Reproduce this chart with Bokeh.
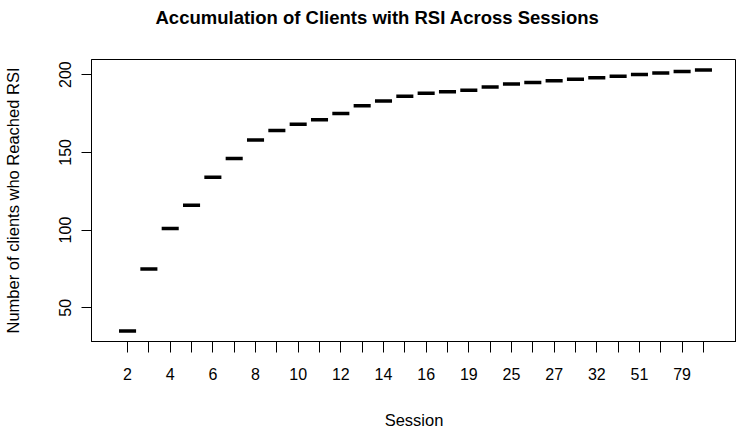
from bokeh.plotting import figure
from bokeh.models import FixedTicker, Range1d, Title
from bokeh.embed import file_html
from bokeh.resources import INLINE
import numpy as np

# Data
sessions = ["2", "3", "4", "5", "6", "7", "8", "9", "10", "11", "12", "13", "14", "15",
            "16", "17", "19", "21", "25", "26", "27", "30", "32", "40", "51", "60", "79", "100"]
clients = [35, 75, 101, 116, 134, 146, 158, 164, 168, 171, 175, 180, 183, 186,
           188, 189, 190, 192, 194, 195, 196, 197, 198, 199, 200, 201, 202, 203]
y_ticks = [50, 100, 150, 200]
title_text = "Accumulation of Clients with RSI Across Sessions"

pos = np.arange(1, len(sessions) + 1)
half_w = 0.4  # boxplot median width (0.8 of a category)

ymin, ymax = min(clients), max(clients)
ypad = 0.04 * (ymax - ymin)

FONT = "Liberation Sans"

p = figure(width=736, height=431, output_backend="svg", toolbar_location=None,
           x_range=Range1d(-0.69, 29.55), y_range=Range1d(ymin - ypad, ymax + ypad),
           min_border_left=90, min_border_right=0, min_border_top=59, min_border_bottom=88,
           title=None)

# spacer between the title and the plot frame
p.add_layout(Title(text=" ", text_font=FONT, text_font_size="27px", standoff=0), "above")
p.add_layout(Title(text=title_text, text_font=FONT, text_font_size="18.5px",
                   text_font_style="bold", text_color="black", align="left",
                   offset=64, standoff=0), "above")

p.grid.visible = False
p.outline_line_color = "black"
p.outline_line_width = 1
p.background_fill_color = "white"
p.border_fill_color = "white"

p.segment(x0=pos - half_w, x1=pos + half_w, y0=clients, y1=clients,
          line_color="black", line_width=3.5, line_cap="butt")

# x axis
p.xaxis.ticker = FixedTicker(ticks=list(pos))
p.xaxis.major_label_overrides = {int(i): (s if k % 2 == 0 else "") for k, (i, s) in enumerate(zip(pos, sessions))}
p.xaxis.axis_label = "Session"
p.xaxis.major_tick_out = 11
p.xaxis.major_tick_in = 0
p.xaxis.minor_tick_line_color = None
p.xaxis.major_label_standoff = 15
p.xaxis.axis_label_standoff = 28

# y axis
p.yaxis.ticker = FixedTicker(ticks=y_ticks)
p.yaxis.axis_label = "Number of clients who Reached RSI"
p.yaxis.major_tick_out = 10
p.yaxis.major_tick_in = 0
p.yaxis.minor_tick_line_color = None
p.yaxis.major_label_orientation = "vertical"
p.yaxis.major_label_standoff = 10
p.yaxis.axis_label_standoff = 35

for ax in (p.xaxis, p.yaxis):
    ax.axis_line_color = "black"
    ax.major_tick_line_color = "black"
    ax.major_label_text_font = FONT
    ax.major_label_text_font_size = "16px"
    ax.major_label_text_color = "black"
    ax.axis_label_text_font = FONT
    ax.axis_label_text_font_size = "16.5px"
    ax.axis_label_text_font_style = "normal"
    ax.axis_label_text_color = "black"

open("out.html", "w").write(file_html(p, INLINE))
